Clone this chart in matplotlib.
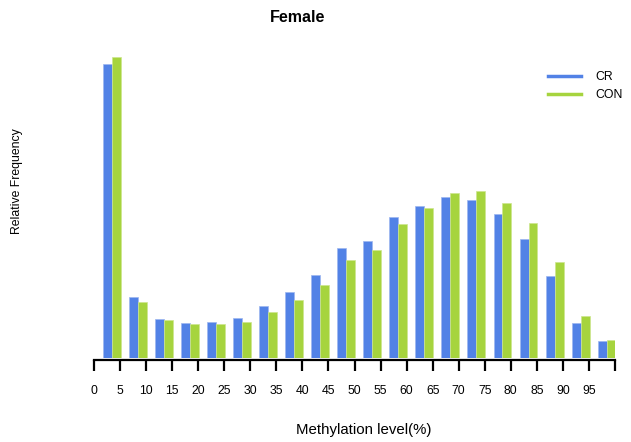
import numpy as np
import matplotlib
matplotlib.use('Agg')
import matplotlib.pyplot as plt
from matplotlib.lines import Line2D

plt.rcParams['font.family'] = ['Liberation Sans', 'DejaVu Sans']

# methylation level bins (%) and relative frequency (%) per group
bin_starts = np.arange(0, 100, 5)
cr = [15.12, 3.12, 2.03, 1.82, 1.85, 2.08, 2.66, 3.40, 4.26, 5.66,
      6.02, 7.26, 7.84, 8.29, 8.15, 7.40, 6.15, 4.20, 1.80, 0.87]
con = [15.49, 2.87, 1.94, 1.73, 1.73, 1.84, 2.37, 2.97, 3.76, 5.06,
       5.54, 6.90, 7.70, 8.48, 8.59, 7.98, 6.95, 4.93, 2.15, 0.93]
tick_vals = np.arange(0, 101, 5)
tick_labels = [str(v) for v in range(0, 100, 5)] + ['']

blue = '#5282E6'
green = '#A6D43E'

W, H = 631, 442
fig = plt.figure(figsize=(W / 100, H / 100), dpi=100)
ax = fig.add_axes([94 / W, (H - 358) / H, (615 - 94) / W, (358 - 40) / H])

bw = 1.72
ax.bar(bin_starts + 3.4 - bw, cr, width=bw, align='edge', color=blue,
       edgecolor='#9DB6F0', linewidth=0.5, label='CR')
ax.bar(bin_starts + 3.4, con, width=bw, align='edge', color=green,
       edgecolor='#CDE68F', linewidth=0.5, label='CON')

ax.set_xlim(0, 100)
ax.set_ylim(0, 318 / 19.43)
for s in ['left', 'top', 'right']:
    ax.spines[s].set_visible(False)
ax.spines['bottom'].set_linewidth(1.6)
ax.spines['bottom'].set_position(('outward', 1.5))
ax.set_yticks([])
ax.set_xticks(tick_vals)
ax.set_xticklabels(tick_labels, fontsize=8.8)
ax.tick_params(axis='x', direction='out', length=8, width=1.6, pad=10)

fig.text(297.5 / W, 1 - 18 / H, 'Female', ha='center', va='center',
         fontsize=11.5, fontweight='bold')
fig.text(17 / W, 1 - 181 / H, 'Relative Frequency', ha='center', va='center',
         rotation=90, fontsize=8.8)
fig.text(364 / W, 1 - 430 / H, 'Methylation level(%)', ha='center',
         va='center', fontsize=10.8)

handles = [Line2D([], [], color=blue, lw=2.5), Line2D([], [], color=green, lw=2.5)]
fig.legend(handles, ['CR', 'CON'], loc='upper left',
           bbox_to_anchor=(537 / W, 1 - 60 / H), frameon=False, fontsize=8.8,
           handlelength=2.7, handletextpad=1.15, labelspacing=0.5)

fig.savefig('out.png', dpi=100)
